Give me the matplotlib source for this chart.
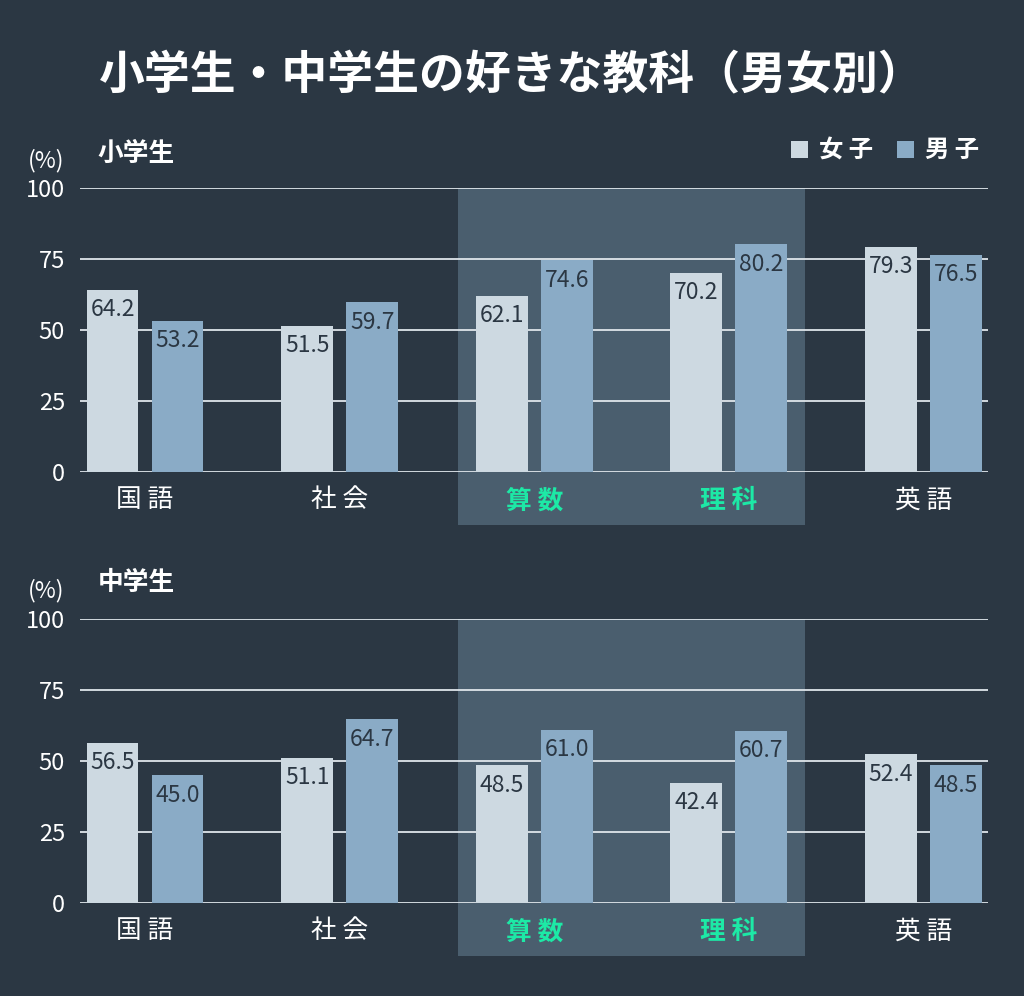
import numpy as np
import matplotlib
matplotlib.use("Agg")
import matplotlib.pyplot as plt
from matplotlib.patches import Rectangle

plt.rcParams['font.family'] = ['Noto Sans CJK JP', 'DejaVu Sans']

# data
subjects = ["国 語", "社 会", "算 数", "理 科", "英 語"]
highlight = [False, False, True, True, False]
elem_girls = [64.2, 51.5, 62.1, 70.2, 79.3]
elem_boys = [53.2, 59.7, 74.6, 80.2, 76.5]
mid_girls = [56.5, 51.1, 48.5, 42.4, 52.4]
mid_boys = [45.0, 64.7, 61.0, 60.7, 48.5]
yticks = [0, 25, 50, 75, 100]

bg = "#2b3743"
hl = "#4a5e6e"
girl_c = "#cdd9e1"
boy_c = "#8aabc6"
green = "#1de9a6"
grid_c = "#dfe6eb"

fig = plt.figure(figsize=(10.24, 9.96), dpi=100, facecolor=bg)

fig.text(0.5, 0.9247, "小学生・中学生の好きな教科（男女別）", ha="center", va="center",
         color="white", fontsize=33, fontweight="bold")


def draw_panel(rect, girls, boys, name, name_y):
    ax = fig.add_axes(rect)
    ax.set_facecolor("none")
    x = np.arange(len(subjects))
    w = 0.267
    off = 0.167
    # highlighted subjects background
    idx = [i for i, h in enumerate(highlight) if h]
    ax.add_patch(Rectangle((min(idx) - 0.392, -18.7), (max(idx) - min(idx)) + 0.784, 118.7,
                           facecolor=hl, edgecolor="none", clip_on=False, zorder=0.2))
    ax.bar(x - off, girls, w, color=girl_c, zorder=2)
    ax.bar(x + off, boys, w, color=boy_c, zorder=2)
    for xi, v in zip(x - off, girls):
        ax.text(xi, v - 7, f"{v:.1f}", ha="center", va="center", color=bg, fontsize=16.5, zorder=3)
    for xi, v in zip(x + off, boys):
        ax.text(xi, v - 7, f"{v:.1f}", ha="center", va="center", color=bg, fontsize=16.5, zorder=3)
    ax.set_xlim(-0.334, len(subjects) - 1 + 0.331)
    ax.set_ylim(0, 100)
    ax.set_yticks(yticks)
    ax.set_yticklabels([str(t) for t in yticks])
    ax.yaxis.grid(True, color=grid_c, linewidth=1.3)
    ax.set_axisbelow(True)
    ax.set_xticks(x)
    ax.set_xticklabels(subjects)
    for lab, h in zip(ax.get_xticklabels(), highlight):
        lab.set_color(green if h else "white")
        lab.set_fontweight("bold" if h else "normal")
        lab.set_fontsize(18.5)
    ax.tick_params(axis="both", length=0)
    ax.tick_params(axis="y", colors="white", labelsize=17, pad=10.8)
    ax.tick_params(axis="x", pad=11)
    for s in ax.spines.values():
        s.set_visible(False)
    fig.text(0.095, name_y, name, color="white", fontsize=18.5, fontweight="bold", va="center")
    fig.text(0.045, name_y - 0.008, "(%)", color="white", fontsize=16.5, ha="center", va="center")
    return ax


draw_panel([0.078125, 0.5261, 0.88672, 0.28514], elem_girls, elem_boys, "小学生", 0.8464)
draw_panel([0.078125, 0.09337, 0.88672, 0.28514], mid_girls, mid_boys, "中学生", 0.4147)

# legend
for sx, tx, label, c in [(0.7725, 0.800, "女 子", girl_c), (0.876, 0.903, "男 子", boy_c)]:
    fig.patches.append(Rectangle((sx, 0.8414), 0.0166, 0.0171, transform=fig.transFigure,
                                 facecolor=c, edgecolor="none"))
    fig.text(tx, 0.8494, label, color="white", fontsize=17.5, fontweight="bold", va="center")

fig.savefig("out.png", dpi=100, facecolor=bg)
